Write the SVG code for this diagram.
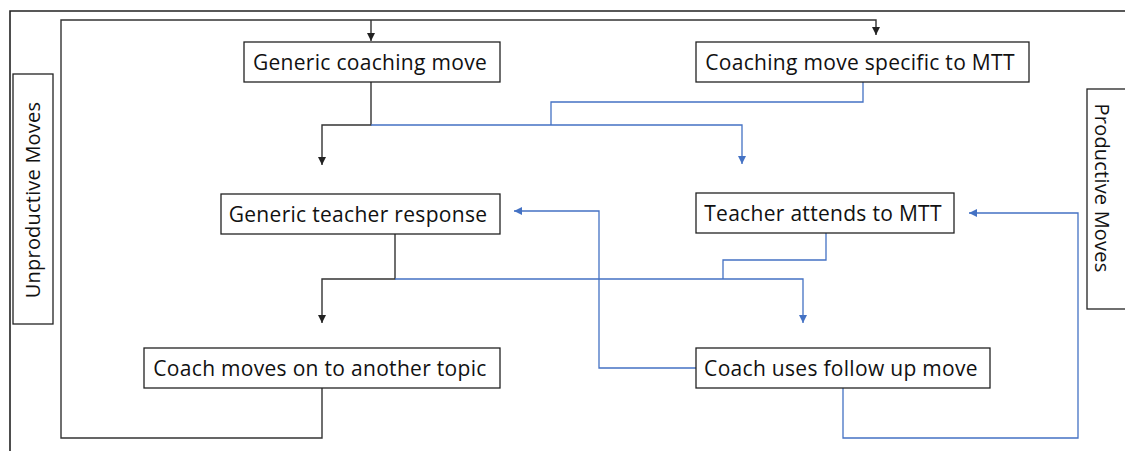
<svg xmlns="http://www.w3.org/2000/svg" width="1125" height="451" viewBox="0 0 1125 451">
  <defs>
    <marker id="arrK" viewBox="0 0 10 10" refX="10" refY="5" markerWidth="8" markerHeight="8" markerUnits="userSpaceOnUse" orient="auto">
      <path d="M0,0 L10,5 L0,10 z" fill="#222"/>
    </marker>
    <marker id="arrB" viewBox="0 0 10 10" refX="10" refY="5" markerWidth="8" markerHeight="8" markerUnits="userSpaceOnUse" orient="auto">
      <path d="M0,0 L10,5 L0,10 z" fill="#4472C4"/>
    </marker>
  </defs>
  <style>
    .box { fill: #ffffff; stroke: #222; stroke-width: 1.3; }
    .label { font-family: "Open Sans", "Noto Sans", sans-serif; font-size: 21px; letter-spacing: 0.3px; fill: #111; text-anchor: middle; }
    .side { font-family: "Open Sans", "Noto Sans", sans-serif; font-size: 20px; letter-spacing: 0.2px; fill: #111; text-anchor: middle; }
    .k { fill: none; stroke: #333; stroke-width: 1.4; }
    .b { fill: none; stroke: #4472C4; stroke-width: 1.3; }
    .frame { fill: none; stroke: #222; stroke-width: 1.6; }
  </style>

  <rect width="1125" height="451" fill="#ffffff"/>

  <!-- page frame -->
  <path class="frame" d="M10,451 V11 H1125"/>

  <!-- connectors -->
  <g id="connectors">
    <!-- outer black loop feeding both top boxes -->
    <path class="k" d="M322,388 V438 H61 V20 H876 V35" marker-end="url(#arrK)"/>
    <path class="k" d="M371,20 V41" marker-end="url(#arrK)"/>
    <!-- generic coaching move → generic teacher response -->
    <path class="k" d="M371,82 V125 H322 V165" marker-end="url(#arrK)"/>
    <!-- coaching moves → teacher attends to MTT -->
    <path class="b" d="M371,125 H742 V164" marker-end="url(#arrB)"/>
    <path class="b" d="M863,82 V102 H551 V125"/>
    <!-- generic teacher response → coach moves on -->
    <path class="k" d="M395,234 V279 H322 V323" marker-end="url(#arrK)"/>
    <!-- teacher responses → coach uses follow up move -->
    <path class="b" d="M395,279 H803 V323" marker-end="url(#arrB)"/>
    <path class="b" d="M826,233 V260 H723 V279"/>
    <!-- follow up move loops back -->
    <path class="b" d="M696,368 H599 V211 H514" marker-end="url(#arrB)"/>
    <path class="b" d="M843,388 V438 H1078 V213 H969" marker-end="url(#arrB)"/>
  </g>

  <!-- side labels -->
  <g id="unproductive">
    <rect class="box" x="13" y="74" width="40" height="250"/>
    <text class="side" transform="translate(40,200) rotate(-90)">Unproductive Moves</text>
  </g>
  <g id="productive">
    <rect class="box" x="1087" y="89" width="40" height="220"/>
    <text class="side" transform="translate(1095,188) rotate(90)">Productive Moves</text>
  </g>

  <!-- nodes -->
  <g id="generic-coaching-move">
    <rect class="box" x="244" y="42" width="256" height="40"/>
    <text class="label" x="370" y="69.5">Generic coaching move</text>
  </g>
  <g id="coaching-move-specific">
    <rect class="box" x="696" y="42" width="333" height="40"/>
    <text class="label" x="860" y="69.5">Coaching move specific to MTT</text>
  </g>
  <g id="generic-teacher-response">
    <rect class="box" x="221" y="194" width="279" height="40"/>
    <text class="label" x="358" y="221.5">Generic teacher response</text>
  </g>
  <g id="teacher-attends">
    <rect class="box" x="696" y="193" width="258" height="40"/>
    <text class="label" x="823" y="220.5">Teacher attends to MTT</text>
  </g>
  <g id="coach-moves-on">
    <rect class="box" x="144" y="348" width="356" height="40"/>
    <text class="label" x="320" y="375.5">Coach moves on to another topic</text>
  </g>
  <g id="coach-follow-up">
    <rect class="box" x="696" y="348" width="294" height="40"/>
    <text class="label" x="841" y="375.5">Coach uses follow up move</text>
  </g>
</svg>
